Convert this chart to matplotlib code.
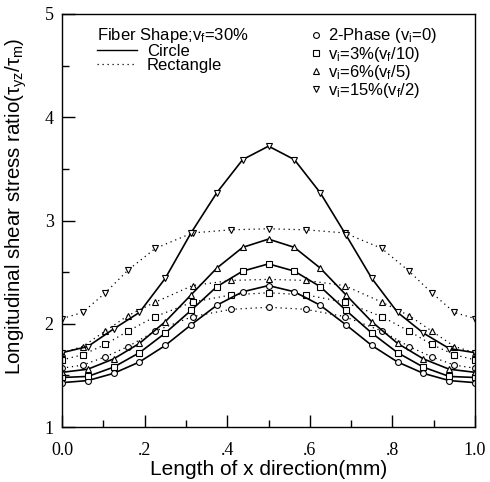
import matplotlib
matplotlib.use('Agg')
import matplotlib.pyplot as plt
from matplotlib.lines import Line2D
from matplotlib.ticker import MultipleLocator, FixedLocator, FixedFormatter

# x positions of nodes for circle and rectangle fibers
x_circle = [0, 0.0625, 0.125, 0.1875, 0.25, 0.3125, 0.375, 0.4375, 0.5,
            0.5625, 0.625, 0.6875, 0.75, 0.8125, 0.875, 0.9375, 1.0]
x_rect = [0, 0.05, 0.105, 0.16, 0.226, 0.316, 0.41, 0.5,
          0.59, 0.684, 0.774, 0.84, 0.895, 0.95, 1.0]

# Circle fiber (solid lines)
circ_0 = [1.43, 1.45, 1.52, 1.63, 1.79, 1.99, 2.18, 2.31, 2.37,
          2.31, 2.18, 1.99, 1.79, 1.63, 1.52, 1.45, 1.43]
circ_3 = [1.48, 1.49, 1.58, 1.72, 1.91, 2.13, 2.36, 2.51, 2.58,
          2.51, 2.36, 2.13, 1.91, 1.72, 1.58, 1.49, 1.48]
circ_6 = [1.53, 1.56, 1.66, 1.81, 2.02, 2.28, 2.54, 2.74, 2.82,
          2.74, 2.54, 2.28, 2.02, 1.81, 1.66, 1.56, 1.53]
circ_15 = [1.72, 1.78, 1.95, 2.11, 2.44, 2.88, 3.27, 3.59, 3.72,
           3.59, 3.27, 2.86, 2.44, 2.11, 1.91, 1.76, 1.72]

# Rectangle fiber (dotted lines)
rect_0 = [1.57, 1.60, 1.68, 1.78, 1.93, 2.07, 2.14, 2.16,
          2.14, 2.07, 1.93, 1.78, 1.68, 1.60, 1.57]
rect_3 = [1.65, 1.70, 1.80, 1.93, 2.07, 2.21, 2.28, 2.30,
          2.28, 2.21, 2.07, 1.93, 1.80, 1.70, 1.65]
rect_6 = [1.72, 1.78, 1.93, 2.08, 2.21, 2.37, 2.42, 2.43,
          2.42, 2.37, 2.21, 2.08, 1.93, 1.78, 1.72]
rect_15 = [2.05, 2.11, 2.30, 2.52, 2.73, 2.88, 2.91, 2.92,
           2.91, 2.88, 2.73, 2.51, 2.30, 2.11, 2.05]

markers = ['o', 's', '^', 'v']
labels = ['2-Phase ($v_i$=0)', '$v_i$=3%($v_f$/10)',
          '$v_i$=6%($v_f$/5)', '$v_i$=15%($v_f$/2)']

plt.rcParams['font.family'] = ['Liberation Sans', 'DejaVu Sans']
plt.rcParams['mathtext.fontset'] = 'custom'
plt.rcParams['mathtext.rm'] = 'Liberation Sans'
plt.rcParams['mathtext.it'] = 'Liberation Sans'

fig = plt.figure(figsize=(4.9, 4.82), dpi=100)
ax = fig.add_axes([0.1265, 0.114, 0.843, 0.857])

mk = dict(ms=4.2, mfc='white', mec='black', mew=0.8)
for ys, m in zip([rect_0, rect_3, rect_6, rect_15], markers):
    ax.plot(x_rect, ys, color='black', lw=0.9, ls=(0, (1, 3)), marker=m, **mk)
for ys, m in zip([circ_0, circ_3, circ_6, circ_15], markers):
    ax.plot(x_circle, ys, color='black', lw=1.2, ls='-', marker=m, **mk)

ax.set_xlim(0, 1.0)
ax.set_ylim(1, 5)
ax.xaxis.set_major_locator(FixedLocator([0, 0.2, 0.4, 0.6, 0.8, 1.0]))
ax.xaxis.set_major_formatter(FixedFormatter(['0.0', '.2', '.4', '.6', '.8', '1.0']))
ax.xaxis.set_minor_locator(MultipleLocator(0.1))
ax.yaxis.set_major_locator(MultipleLocator(1))
ax.yaxis.set_minor_locator(MultipleLocator(0.5))
ax.tick_params(which='both', direction='in', top=False, right=False, width=1)
ax.tick_params(which='major', length=9)
ax.tick_params(which='minor', length=5)
ax.tick_params(axis='x', pad=11)
ax.tick_params(axis='y', pad=6)
for lab in ax.get_xticklabels() + ax.get_yticklabels():
    lab.set_fontfamily('Liberation Serif')
    lab.set_fontsize(13)
for s in ax.spines.values():
    s.set_linewidth(1.0)

ax.set_xlabel('Length of x direction(mm)', fontsize=15)
ax.xaxis.set_label_coords(0.5, -0.08)
ax.set_ylabel(r'Longitudinal shear stress ratio($\tau_{yz}$/$\tau_m$)', fontsize=14.8)
ax.yaxis.set_label_coords(-0.08, 0.535)

# legend for fiber shape
shape_handles = [Line2D([], [], color='black', lw=1.0, ls='-'),
                 Line2D([], [], color='black', lw=0.9, ls=(0, (1, 3)))]
leg1 = ax.legend(shape_handles, ['Circle', 'Rectangle'], title='Fiber Shape;$v_f$=30%',
                 loc='upper left', bbox_to_anchor=(0.077, 0.978), frameon=False,
                 fontsize=12, title_fontsize=12, handlelength=2.4, handletextpad=0.6,
                 labelspacing=-0.08, borderpad=0.2, borderaxespad=0, alignment='left')
ax.add_artist(leg1)

marker_handles = [Line2D([], [], ls='none', marker=m, **mk) for m in markers]
ax.legend(marker_handles, labels, loc='upper left', bbox_to_anchor=(0.586, 0.978),
          frameon=False, fontsize=12, handlelength=1.0, handletextpad=0.25,
          labelspacing=-0.05, borderpad=0.2, borderaxespad=0)

fig.savefig('out.png', dpi=100)
